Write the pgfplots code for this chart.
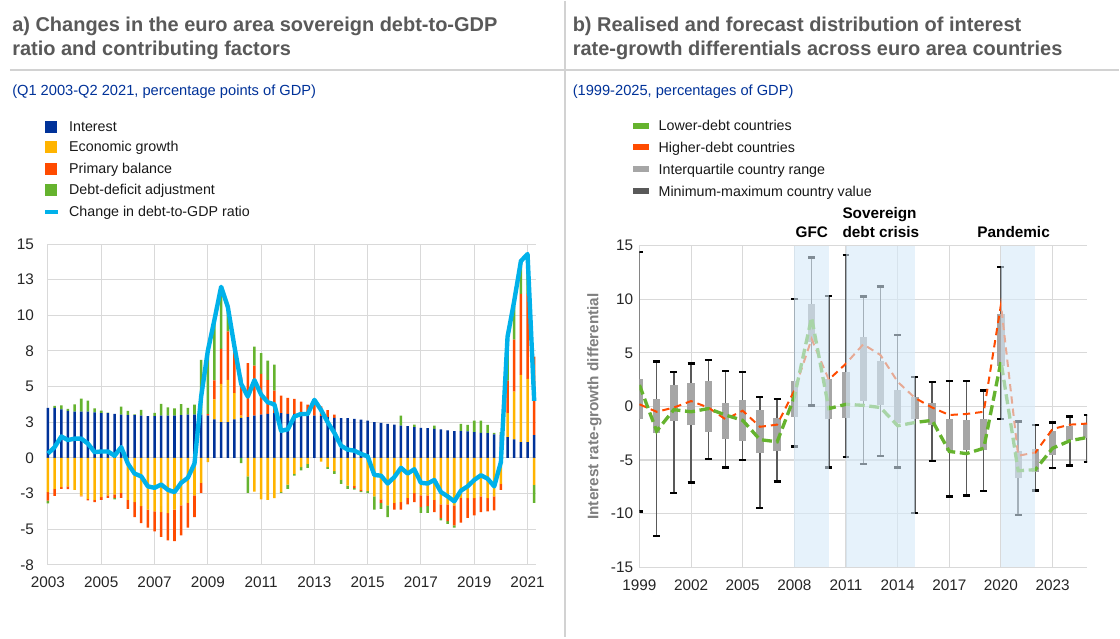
\documentclass[border=0pt]{standalone}
\usepackage{fontspec}
\setmainfont{Liberation Sans}
\usepackage{pgfplots}
\usepackage{pgfplotstable}
\pgfplotsset{compat=1.18}

\definecolor{ecbblue}{RGB}{0,50,153}
\definecolor{ecbyellow}{RGB}{255,180,0}
\definecolor{ecbred}{RGB}{255,75,0}
\definecolor{ecbgreen}{RGB}{101,179,46}
\definecolor{ecbcyan}{RGB}{0,177,234}
\definecolor{boxgray}{RGB}{166,166,166}
\definecolor{whiskgray}{RGB}{89,89,89}
\definecolor{titlegray}{RGB}{89,89,89}
\definecolor{gridgray}{RGB}{217,217,217}
\definecolor{sepgray}{RGB}{210,210,210}
\definecolor{shade}{RGB}{214,234,249}
\definecolor{subblue}{RGB}{0,50,153}

\newcommand{\tickfont}{\fontsize{11.5}{13}\selectfont}
\newcommand{\legfont}{\fontsize{10.7}{12}\selectfont}
\newcommand{\titlefont}{\fontsize{15}{18}\selectfont\bfseries}

% quarterly contributions, Q1 2003 - Q2 2021
\pgfplotstableread{
t       int   gro    pri    dda    chg
2003.00 3.50 -2.40  -0.60  -0.20  0.30
2003.25 3.50 -2.17  -0.50   0.15  0.75
2003.50 3.40 -2.05  -0.12   0.28  1.50
2003.75 3.30 -2.00  -0.20   0.14  1.25
2004.00 3.25 -2.25   0.00   0.50  1.35
2004.25 3.25 -2.65  -0.05   0.90  1.35
2004.50 3.25 -2.87  -0.12   0.77  1.00
2004.75 3.20 -2.95  -0.16   0.28  0.40
2005.00 3.13 -2.76  -0.19   0.19  0.45
2005.25 3.13 -2.64  -0.16   0.05  0.45
2005.50 3.08 -2.57  -0.23  -0.12  0.15
2005.75 3.04 -2.45  -0.35   0.56  0.75
2006.00 3.00 -2.94  -0.63   0.30 -0.40
2006.25 3.00 -3.10  -1.05   0.05 -1.10
2006.50 2.97 -3.39  -1.19   0.40 -1.30
2006.75 2.92 -3.64  -1.26   0.00 -2.00
2007.00 2.92 -3.76  -1.40   0.23 -2.10
2007.25 2.97 -3.80  -1.75   0.82 -1.87
2007.50 2.97 -3.88  -1.90   0.58 -2.24
2007.75 2.97 -3.64  -2.20   0.51 -2.40
2008.00 3.00 -3.34  -2.10   0.77 -1.75
2008.25 3.04 -3.15  -1.75   0.47 -1.40
2008.50 3.04 -2.64  -1.52   0.70 -0.40
2008.75 3.04 -1.75  -0.70   3.83  4.30
2009.00 2.97 -0.30   0.10   4.73  7.50
2009.25 2.70  1.40   1.33   4.27  9.70
2009.50 2.50  2.69   2.45   4.36 12.00
2009.75 2.50  2.97   3.41   1.70 10.60
2010.00 2.70  1.85   3.22   0.00  7.80
2010.25 2.80  0.16   2.69  -0.37  5.20
2010.50 2.85 -1.30   3.80  -1.15  4.30
2010.75 2.97 -2.36   3.50   1.33  5.45
2011.00 3.04 -2.92   2.85   1.45  4.44
2011.25 3.08 -2.94   2.38   1.36  3.90
2011.50 3.13 -2.83   1.59   1.82  3.75
2011.75 3.13 -2.40   1.24  -0.05  1.90
2012.00 3.08 -1.87   1.12  -0.30  2.00
2012.25 3.08 -1.12   1.05  -0.12  2.90
2012.50 3.04 -0.65   0.91  -0.23  3.08
2012.75 3.04 -0.42   0.70  -0.28  3.08
2013.00 2.97  0.00   1.10   0.00  4.07
2013.25 2.92 -0.26   0.70   0.00  3.36
2013.50 2.85 -0.65   0.50  -0.12  2.50
2013.75 2.80 -0.93   0.23  -0.19  1.75
2014.00 2.78 -1.54   0.00  -0.28  0.85
2014.25 2.78 -1.94   0.00  -0.23  0.58
2014.50 2.73 -1.99  -0.14  -0.10  0.50
2014.75 2.69 -2.24  -0.10  -0.07  0.28
2015.00 2.62 -2.34   0.00  -0.14  0.10
2015.25 2.50 -2.71   0.00  -0.93 -1.20
2015.50 2.45 -2.92  -0.23  -0.42 -1.25
2015.75 2.38 -3.34   0.00  -0.82 -1.80
2016.00 2.34 -3.15  -0.49   0.00 -1.35
2016.25 2.27 -3.10  -0.54   0.70 -0.70
2016.50 2.22 -2.80  -0.47   0.00 -1.10
2016.75 2.15 -2.48  -0.63   0.19 -0.80
2017.00 2.10 -2.64  -0.82  -0.40 -1.75
2017.25 2.08 -2.64  -0.75  -0.47 -1.80
2017.50 2.03 -2.94  -0.86   0.23 -1.55
2017.75 1.99 -3.27  -0.96  -0.16 -2.40
2018.00 1.92 -3.27  -1.17  -0.19 -2.70
2018.25 1.87 -3.34  -1.40  -0.16 -3.05
2018.50 1.87 -2.80  -1.75   0.51 -2.30
2018.75 1.85 -2.83  -1.38   0.47 -2.00
2019.00 1.80 -2.83  -1.21   0.82 -1.55
2019.25 1.75 -2.71  -1.10   0.86 -1.22
2019.50 1.73 -2.83  -0.93   0.58 -1.46
2019.75 1.64 -2.71  -0.98   0.12 -2.00
2020.00 1.60 -1.82  -0.42   0.20 -0.30
2020.25 1.45  1.68   2.29   3.00  8.50
2020.50 1.29  3.36   3.64   2.38 11.00
2020.75 1.10  4.72   5.68   2.30 13.80
2021.00 1.10  4.45   5.95   2.80 14.30
2021.25 1.60 -1.90   5.50  -1.25  4.00
}\debttab

% interest rate-growth differentials, 1999-2025
\pgfplotstableread{
yr    min    q1     q3     max    low   high
1999  -9.80 -1.20   2.55  14.40   2.0   0.2
2000 -12.10 -2.50   0.70   4.20  -2.3  -0.5
2001  -8.10 -1.35   2.00   3.20  -0.3  -0.1
2002  -7.10 -1.75   2.20   4.00  -0.5   0.5
2003  -4.90 -2.35   2.40   4.35  -0.2  -0.1
2004  -5.70 -3.05   0.35   3.30  -0.8  -1.2
2005  -5.00 -3.20   0.60   3.20  -1.3  -0.4
2006  -9.50 -4.35  -0.35   0.90  -3.1  -1.9
2007  -7.00 -4.20  -1.05   0.70  -3.3  -1.7
2008  -3.75 -0.95   2.40  10.00   0.9   1.5
2009   0.10  6.00   9.60  13.90   8.3   6.3
2010  -5.70 -1.20   2.55  10.30  -0.2   2.5
2011  -4.70 -1.10   3.25  14.10   0.2   4.0
2012  -5.40  0.55   6.45  10.25   0.1   5.8
2013  -4.65  0.10   4.25  11.20  -0.1   4.8
2014  -5.70 -1.55   1.55   6.70  -1.8   2.3
2015  -9.95 -1.20   0.90   2.75  -1.5   0.8
2016  -5.10 -1.75   0.35   2.25  -1.3  -0.1
2017  -8.40 -4.15  -1.20   2.35  -4.2  -0.8
2018  -8.30 -4.10  -1.30   2.40  -4.4  -0.7
2019  -7.90 -4.10  -1.20   1.50  -3.9  -0.5
2020  -1.20  3.80   8.60  13.00   4.2   9.5
2021 -10.10 -6.70  -4.15  -1.40  -6.0  -4.6
2022  -7.85 -6.15  -4.00  -1.75  -5.9  -4.3
2023  -5.75 -4.50  -2.25  -1.50  -3.9  -2.1
2024  -5.50 -3.15  -1.85  -0.95  -3.2  -1.7
2025  -5.20 -2.95  -1.65  -0.80  -2.9  -1.6
}\irgtab

\pgfplotsset{
  panel/.style={
    scale only axis, anchor=south west, enlargelimits=false,
    axis line style={draw=none}, tick style={draw=none},
    grid=major, major grid style={gridgray, line width=0.8pt},
    tick label style={font=\tickfont, text=black!85},
    /pgf/number format/1000 sep={},
    /pgf/number format/assume math mode=true,
  },
  ghost/.style={scale only axis, anchor=south west, enlargelimits=false, hide axis},
}

\begin{document}
\begin{tikzpicture}
\fill[white] (0pt,0pt) rectangle (840pt,-477.75pt);

% separators
\draw[sepgray, line width=1.5pt] (7.5pt,-51.75pt) -- (840pt,-51.75pt);
\draw[sepgray, line width=1.5pt] (423.75pt,0pt) -- (423.75pt,-477.75pt);

% titles
\node[anchor=base west, inner sep=0pt, font=\titlefont, text=titlegray] at (9pt,-23.25pt) {a) Changes in the euro area sovereign debt-to-GDP};
\node[anchor=base west, inner sep=0pt, font=\titlefont, text=titlegray] at (9pt,-41.25pt) {ratio and contributing factors};
\node[anchor=base west, inner sep=0pt, font=\titlefont, text=titlegray] at (429.75pt,-23.25pt) {b) Realised and forecast distribution of interest};
\node[anchor=base west, inner sep=0pt, font=\titlefont, text=titlegray] at (429.75pt,-41.25pt) {rate-growth differentials across euro area countries};

% subtitles
\node[anchor=base west, inner sep=0pt, font=\fontsize{11}{13}\selectfont, text=subblue] at (9pt,-71.25pt) {(Q1 2003-Q2 2021, percentage points of GDP)};
\node[anchor=base west, inner sep=0pt, font=\fontsize{11}{13}\selectfont, text=subblue] at (429.75pt,-71.25pt) {(1999-2025, percentages of GDP)};

% legend a
\fill[ecbblue]   (33.75pt,-90.3pt)  rectangle (42.75pt,-99.3pt);
\fill[ecbyellow] (33.75pt,-105.0pt) rectangle (42.75pt,-114.0pt);
\fill[ecbred]    (33.75pt,-121.5pt) rectangle (42.75pt,-130.5pt);
\fill[ecbgreen]  (33.75pt,-137.3pt) rectangle (42.75pt,-146.3pt);
\fill[ecbcyan]   (33.75pt,-156.8pt) rectangle (43.5pt,-159.8pt);
\foreach \txt/\yy in {Interest/-97.6, Economic growth/-113.3, Primary balance/-129.8, Debt-deficit adjustment/-145.6, Change in debt-to-GDP ratio/-162.1}
  \node[anchor=base west, inner sep=0pt, font=\legfont, text=black!90] at (51.75pt,\yy pt) {\txt};

% legend b
\fill[ecbgreen]  (475.5pt,-91.5pt)  rectangle (487.5pt,-96pt);
\fill[ecbred]    (475.5pt,-107.3pt) rectangle (487.5pt,-111.8pt);
\fill[boxgray]   (475.5pt,-123.8pt) rectangle (487.5pt,-128.3pt);
\fill[whiskgray] (475.5pt,-140.3pt) rectangle (487.5pt,-144.8pt);
\foreach \txt/\yy in {Lower-debt countries/-97.5, Higher-debt countries/-113.8, Interquartile country range/-130.5, Minimum-maximum country value/-146.8}
  \node[anchor=base west, inner sep=0pt, font=\legfont, text=black!90] at (494.25pt,\yy pt) {\txt};

% ---------------- panel a ----------------
\begin{axis}[panel, at={(36pt,-423.2pt)}, width=366pt, height=240.75pt,
  xmin=2003, xmax=2021.3, ymin=-7.5, ymax=15,
  xtick={2003,2005,...,2021}, ytick={-7.5,-5,...,15},
  yticklabels={-8,-5,-3,0,3,5,8,10,13,15},
  yticklabel style={xshift=-7pt}, xticklabel style={yshift=-5.5pt},
  ybar stacked, bar width=1.9pt, clip=false]
\addplot[fill=ecbblue, draw=none]   table[x=t, y expr={max(\thisrow{int},0)}] \debttab;
\addplot[fill=ecbyellow, draw=none] table[x=t, y expr={max(\thisrow{gro},0)}] \debttab;
\addplot[fill=ecbred, draw=none]    table[x=t, y expr={max(\thisrow{pri},0)}] \debttab;
\addplot[fill=ecbgreen, draw=none]  table[x=t, y expr={max(\thisrow{dda},0)}] \debttab;
\end{axis}
\begin{axis}[ghost, at={(36pt,-423.2pt)}, width=366pt, height=240.75pt,
  xmin=2003, xmax=2021.3, ymin=-7.5, ymax=15,
  ybar stacked, bar width=1.9pt, clip=false]
\addplot[fill=ecbblue, draw=none]   table[x=t, y expr={min(\thisrow{int},0)}] \debttab;
\addplot[fill=ecbyellow, draw=none] table[x=t, y expr={min(\thisrow{gro},0)}] \debttab;
\addplot[fill=ecbred, draw=none]    table[x=t, y expr={min(\thisrow{pri},0)}] \debttab;
\addplot[fill=ecbgreen, draw=none]  table[x=t, y expr={min(\thisrow{dda},0)}] \debttab;
\end{axis}
\begin{axis}[ghost, at={(36pt,-423.2pt)}, width=366pt, height=240.75pt,
  xmin=2003, xmax=2021.3, ymin=-7.5, ymax=15, clip=false]
\addplot[ecbcyan, line width=3.3pt, line join=round, mark=none] table[x=t, y=chg] \debttab;
\end{axis}

% ---------------- panel b ----------------
\begin{axis}[panel, at={(480pt,-425pt)}, width=336pt, height=241.3pt,
  xmin=1999, xmax=2025, ymin=-15, ymax=15,
  xtick={1999,2002,...,2023}, ytick={-15,-10,...,15},
  yticklabel style={xshift=-1.2pt}, xticklabel style={yshift=-6.2pt},
  ylabel={Interest rate-growth differential},
  ylabel style={at={(axis description cs:-0.1004,0.5)}, anchor=center,
    font=\fontsize{11.5}{13}\selectfont\bfseries, text={rgb,255:red,127;green,127;blue,127}}]
% min-max whiskers
\addplot[draw=none, mark=none, forget plot,
  error bars/.cd, y dir=both, y explicit,
  error bar style={draw=whiskgray, line width=1.1pt},
  error mark=-, error mark options={draw=black, line width=1.7pt, mark size=2.6pt, rotate=90}]
  table[x=yr, y=min, y error plus expr=\thisrow{max}-\thisrow{min}, y error minus expr=0] \irgtab;
% interquartile boxes
\addplot[draw=none, mark=none, forget plot,
  error bars/.cd, y dir=plus, y explicit,
  error bar style={draw=boxgray, line width=5.5pt}, error mark=none]
  table[x=yr, y=q1, y error plus expr=\thisrow{q3}-\thisrow{q1}] \irgtab;
% group medians
\addplot[ecbred, line width=1.5pt, dash pattern=on 5.5pt off 3.75pt, mark=none] table[x=yr, y=high] \irgtab;
\addplot[ecbgreen, line width=2.5pt, dash pattern=on 7.5pt off 3.5pt, mark=none] table[x=yr, y=low] \irgtab;
% crisis shading
\addplot[fill=shade, fill opacity=0.6, draw=none, forget plot] coordinates {(2008,-15) (2008,15) (2010,15) (2010,-15)} -- cycle;
\addplot[fill=shade, fill opacity=0.6, draw=none, forget plot] coordinates {(2011,-15) (2011,15) (2015,15) (2015,-15)} -- cycle;
\addplot[fill=shade, fill opacity=0.6, draw=none, forget plot] coordinates {(2020,-15) (2020,15) (2022,15) (2022,-15)} -- cycle;
\end{axis}

% episode labels
\node[anchor=base, inner sep=0pt, font=\fontsize{11.5}{13}\selectfont\bfseries] at (609.4pt,-177.5pt) {GFC};
\node[anchor=base west, inner sep=0pt, font=\fontsize{11.5}{13}\selectfont\bfseries] at (632.25pt,-163.5pt) {Sovereign};
\node[anchor=base west, inner sep=0pt, font=\fontsize{11.5}{13}\selectfont\bfseries] at (632.25pt,-177.5pt) {debt crisis};
\node[anchor=base west, inner sep=0pt, font=\fontsize{11.5}{13}\selectfont\bfseries] at (733.5pt,-177.5pt) {Pandemic};

\end{tikzpicture}
\end{document}
